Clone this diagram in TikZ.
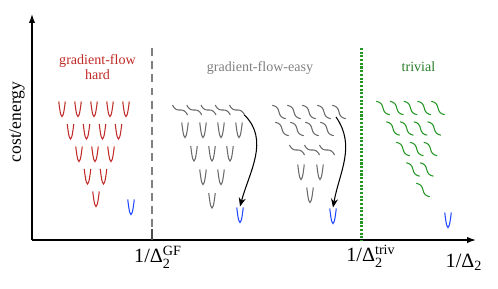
\documentclass[tikz,border=0pt]{standalone}
\usepackage{fontspec}
\setmainfont{Liberation Serif}
\usepackage{tikz}
\usetikzlibrary{arrows.meta}

\definecolor{hardred}{RGB}{192,42,38}
\definecolor{easygray}{RGB}{105,105,105}
\definecolor{easytext}{RGB}{128,128,128}
\definecolor{trivgreen}{RGB}{36,150,36}
\definecolor{trivtext}{RGB}{40,125,40}
\definecolor{minblue}{RGB}{30,70,255}

\begin{document}
\begin{tikzpicture}[
  line width=0.6pt,
  axis/.style={-{Latex[length=5pt,width=3.5pt]}, line width=0.7pt},
  region/.style={font=\fontsize{8}{8.5}\selectfont, align=center},
  tick/.style={font=\fontsize{11.5}{13}\selectfont},
  arrow/.style={-{Stealth[length=5pt,width=4pt]}, line width=0.6pt},
  valley/.pic={
    \draw (-0.065,0.15) parabola bend (0,-0.15) (0.065,0.15);
    \coordinate (-top) at (0,0.17);
  },
  plateau/.pic={
    \draw plot[domain=-1:1, samples=17, smooth] ({0.15*\x},{-0.1*\x*\x*\x});
    \coordinate (-end) at (0.15,-0.1);
  },
  wiggle/.pic={
    \draw[rotate=-45] (-0.19,0) sin (-0.095,0.035) cos (0,0) sin (0.095,-0.035) cos (0.19,0);
  }
]
  \useasboundingbox (0,0) rectangle (9.96,5.76);

  % axes
  \coordinate (O) at (0.64,0.96);
  \coordinate (ytip) at (0.64,5.48);
  \coordinate (xtip) at (9.52,0.96);
  \draw[axis] (O) -- (ytip);
  \draw[axis] (O) -- (xtip);
  \node[rotate=90] (ylab) at (0.34,3.32) {cost/energy};

  % thresholds
  \coordinate (gf_top) at (3.04,4.80);
  \coordinate (gf_bot) at (3.04,0.96);
  \coordinate (gf_tick) at (3.04,1.18);
  \coordinate (triv_top) at (7.23,4.80);
  \coordinate (triv_bot) at (7.23,0.96);
  \draw[easytext, line width=1pt, dash pattern=on 4.5pt off 3pt] (gf_top) -- (gf_bot);
  \draw[black!70] (gf_bot) -- (gf_tick);
  \draw[trivgreen, line width=1.2pt, dash pattern=on 1.2pt off 0.9pt] (triv_top) -- (triv_bot);

  \node[tick] (gf_lab) at (3.16,0.62) {1/Δ$_{\mathrm{2}}^{\mathrm{GF}}$};
  \node[tick] (triv_lab) at (7.42,0.64) {1/Δ$_{\mathrm{2}}^{\mathrm{triv}}$};
  \node[tick] (x_lab) at (9.28,0.52) {1/Δ$_{\mathrm{2}}$};

  % region titles
  \node[region, text=hardred] (hard_title) at (1.95,4.42) {gradient-flow\\hard};
  \node[region, text=easytext] (easy_title) at (5.20,4.40) {gradient-flow-easy};
  \node[region, text=trivtext] (triv_title) at (8.37,4.42) {trivial};

  % gradient-flow hard
  \foreach \r in {0,...,4}
    \foreach \i in {\r,...,4}
      \pic[hardred] at ({1.24+0.17*\r+0.32*(\i-\r)},{3.58-0.45*\r}) {valley};
  \pic[minblue] (hard_min) at (2.62,1.62) {valley};

  % gradient-flow easy, left
  \foreach \i in {0,...,4}
    \pic[easygray] (gfs\i) at ({3.60+0.285*\i},3.56) {plateau};
  \foreach \r in {0,...,3}
    \foreach \i in {\r,...,3}
      \pic[easygray] at ({3.70+0.18*\r+0.36*(\i-\r)},{3.16-0.47*\r}) {valley};
  \pic[minblue] (easy_min) at (4.80,1.46) {valley};
  \draw[arrow] (gfs4-end) to[out=-45, in=75] (easy_min-top);

  % gradient-flow easy, right
  \foreach \i in {0,...,4}
    \pic[easygray] at ({5.58+0.30*\i},3.52) {wiggle};
  \foreach \i in {0,...,3}
    \pic[easygray] at ({5.64+0.30*\i},3.18) {wiggle};
  \foreach \i in {0,...,2}
    \pic[easygray] at ({5.94+0.30*\i},2.76) {plateau};
  \pic[easygray] at (6.02,2.32) {valley};
  \pic[easygray] at (6.40,2.32) {valley};
  \pic[easygray] at (6.20,1.86) {valley};
  \pic[minblue] (easy_min2) at (6.66,1.44) {valley};
  \coordinate (wig_start) at (6.72,3.42);
  \draw[arrow] (wig_start) to[out=-55, in=80] (easy_min2-top);

  % trivial
  \foreach \r in {0,...,4}
    \foreach \i in {\r,...,4}
      \pic[trivgreen] at ({7.66+0.2*\r+0.275*(\i-\r)},{3.60-0.41*\r}) {wiggle};
  \pic[minblue] (triv_min) at (8.96,1.36) {valley};
\end{tikzpicture}
\end{document}
